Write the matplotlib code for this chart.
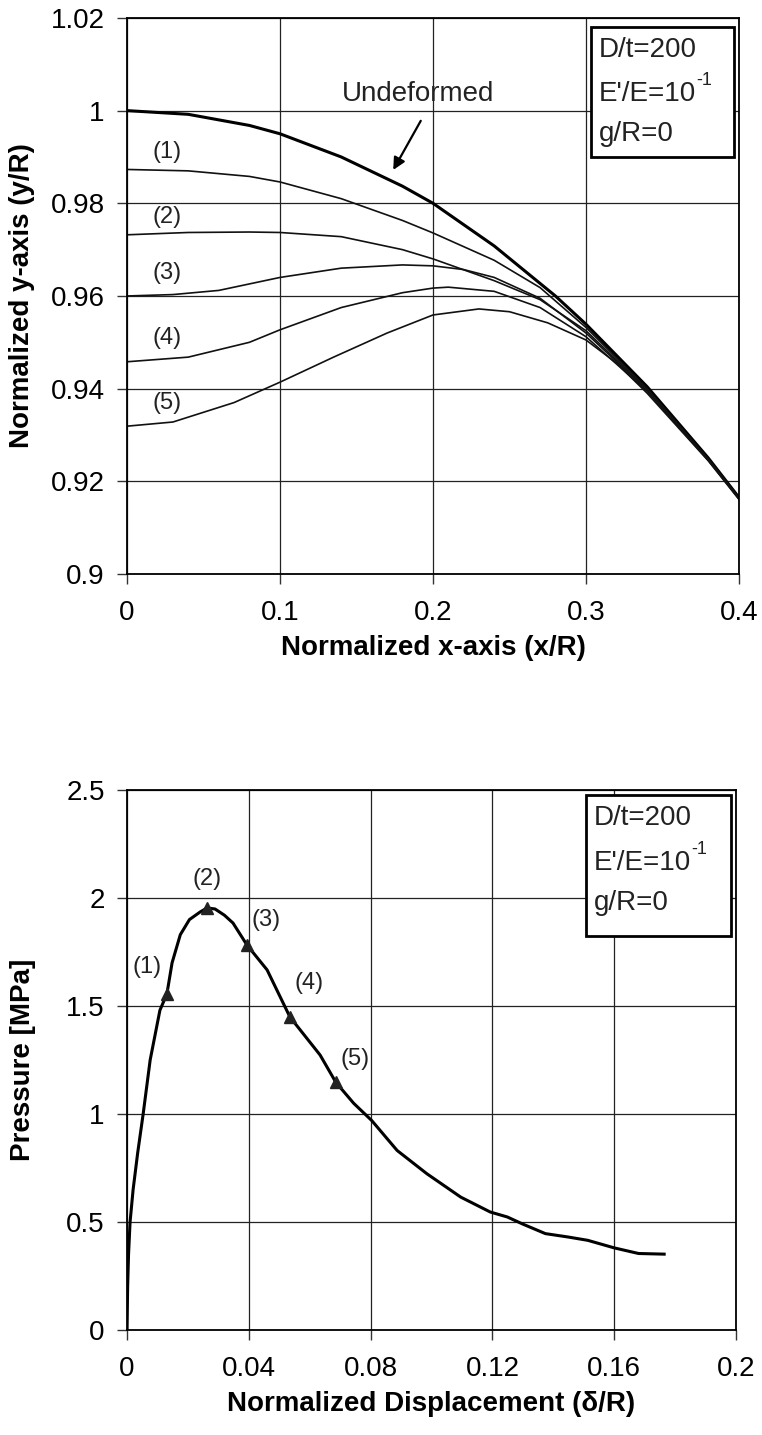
import matplotlib
matplotlib.use("Agg")
import matplotlib.pyplot as plt
from matplotlib.patches import Rectangle

plt.rcParams["font.family"] = ["Liberation Sans", "DejaVu Sans"]

# ---- top panel: deformed shapes ----
und_x = [0, 0.04, 0.08, 0.1, 0.14, 0.18, 0.2, 0.24, 0.28, 0.3, 0.34, 0.38, 0.4]
und_y = [1.0, 0.9992, 0.9968, 0.995, 0.990, 0.9837, 0.980, 0.9708, 0.960, 0.9539, 0.9404, 0.9250, 0.9165]

s1_x = [0, 0.04, 0.08, 0.1, 0.14, 0.18, 0.2, 0.24, 0.27, 0.3, 0.34, 0.38, 0.4]
s1_y = [0.9873, 0.9870, 0.9858, 0.9846, 0.9810, 0.9763, 0.9736, 0.9677, 0.9618, 0.9532, 0.9400, 0.9248, 0.9164]

s2_x = [0, 0.04, 0.08, 0.1, 0.14, 0.18, 0.2, 0.24, 0.27, 0.3, 0.34, 0.38, 0.4]
s2_y = [0.9732, 0.9737, 0.9738, 0.9737, 0.9728, 0.9700, 0.9680, 0.9633, 0.9592, 0.9525, 0.9398, 0.9247, 0.9163]

s3_x = [0, 0.03, 0.06, 0.1, 0.14, 0.18, 0.2, 0.22, 0.24, 0.27, 0.3, 0.34, 0.38, 0.4]
s3_y = [0.9600, 0.9603, 0.9612, 0.9640, 0.9660, 0.9667, 0.9665, 0.9657, 0.9640, 0.9595, 0.9520, 0.9396, 0.9246, 0.9163]

s4_x = [0, 0.04, 0.08, 0.1, 0.14, 0.18, 0.2, 0.21, 0.24, 0.27, 0.3, 0.34, 0.38, 0.4]
s4_y = [0.9458, 0.9468, 0.9500, 0.9527, 0.9575, 0.9607, 0.9617, 0.9619, 0.9610, 0.9575, 0.9512, 0.9394, 0.9245, 0.9162]

s5_x = [0, 0.03, 0.07, 0.1, 0.135, 0.17, 0.2, 0.23, 0.25, 0.275, 0.3, 0.32, 0.34, 0.38, 0.4]
s5_y = [0.9319, 0.9328, 0.9370, 0.9414, 0.9468, 0.9520, 0.9559, 0.9572, 0.9566, 0.9542, 0.9505, 0.9455, 0.9390, 0.9244, 0.9161]

step_labels = ["(1)", "(2)", "(3)", "(4)", "(5)"]
top_lab_y = [0.991, 0.977, 0.965, 0.951, 0.937]

# ---- bottom panel: pressure vs displacement ----
disp = [0, 0.0002, 0.0005, 0.001, 0.002, 0.0035, 0.0053, 0.0076, 0.0108, 0.0131, 0.0148,
        0.0175, 0.0205, 0.024, 0.0263, 0.0289, 0.032, 0.0348, 0.0394, 0.046, 0.0535,
        0.0634, 0.0686, 0.0744, 0.0804, 0.0887, 0.0985, 0.1096, 0.1193, 0.1249, 0.1300,
        0.1374, 0.1450, 0.1513, 0.1600, 0.168, 0.1764]
pres = [0, 0.2, 0.35, 0.5, 0.65, 0.82, 1.0, 1.25, 1.48, 1.556, 1.70,
        1.83, 1.90, 1.935, 1.954, 1.949, 1.92, 1.884, 1.782, 1.667, 1.449,
        1.273, 1.146, 1.05, 0.969, 0.831, 0.723, 0.615, 0.546, 0.523, 0.49,
        0.446, 0.43, 0.415, 0.38, 0.354, 0.351]

mark_x = [0.0131, 0.0263, 0.0394, 0.0535, 0.0686]
mark_y = [1.556, 1.954, 1.782, 1.449, 1.146]
bot_lab_x = [0.0066, 0.0263, 0.0456, 0.0598, 0.0748]
bot_lab_y = [1.68, 2.09, 1.90, 1.606, 1.254]

box_lines = ["D/t=200", "E'/E=10", "g/R=0"]
box_sup = "-1"

TICK = 20
LAB = 20


def style_axes(ax):
    ax.grid(True, color="#222222", linewidth=0.9)
    ax.set_axisbelow(True)
    for sp in ax.spines.values():
        sp.set_color("black")
        sp.set_linewidth(1.3)
    ax.tick_params(direction="out", length=7, width=1, color="#333333",
                   labelsize=TICK, top=False, right=False)
    ax.tick_params(axis="x", pad=12)
    ax.tick_params(axis="y", pad=9)


def info_box(ax, x0, y0, w, h, tx, ty):
    ax.add_patch(Rectangle((x0, y0), w, h, transform=ax.transAxes, fill=True,
                           facecolor="white", edgecolor="black", linewidth=2,
                           zorder=5, clip_on=False))
    for i, (t, yy) in enumerate(zip(box_lines, ty)):
        txt = ax.text(tx, yy, t, transform=ax.transAxes, fontsize=20, va="center",
                      ha="left", zorder=6, color="#222222")
        if i == 1:
            # small raised "-1" after "10"
            ax.annotate(box_sup, xy=(1.0, 1.0), xycoords=txt, fontsize=13,
                        ha="left", va="center", color="#222222", zorder=6)


fig = plt.figure(figsize=(7.62, 14.35), dpi=100)

# top
ax1 = fig.add_axes([0.1667, 0.6, 0.8031, 0.3875])
ax1.plot(und_x, und_y, color="black", linewidth=2.2)
for sx, sy in [(s1_x, s1_y), (s2_x, s2_y), (s3_x, s3_y), (s4_x, s4_y), (s5_x, s5_y)]:
    ax1.plot(sx, sy, color="#111111", linewidth=1.2)
for lab, yy in zip(step_labels, top_lab_y):
    ax1.text(0.026, yy, lab, fontsize=17, ha="center", va="center", color="#222222")
ax1.text(0.19, 1.0035, "Undeformed", fontsize=20, ha="center", va="center", color="#222222")
ax1.annotate("", xy=(0.174, 0.9872), xytext=(0.192, 0.9978),
             arrowprops=dict(arrowstyle="-|>", color="black", lw=1.6,
                             shrinkA=0, shrinkB=0, mutation_scale=18))
ax1.set_xlim(0, 0.4)
ax1.set_ylim(0.9, 1.02)
ax1.set_xticks([0, 0.1, 0.2, 0.3, 0.4])
ax1.set_xticklabels(["0", "0.1", "0.2", "0.3", "0.4"])
ax1.set_yticks([0.9, 0.92, 0.94, 0.96, 0.98, 1.0, 1.02])
ax1.set_yticklabels(["0.9", "0.92", "0.94", "0.96", "0.98", "1", "1.02"])
style_axes(ax1)
ax1.set_xlabel("Normalized x-axis (x/R)", fontsize=LAB, fontweight="bold", labelpad=6)
ax1.set_ylabel("Normalized y-axis (y/R)", fontsize=LAB, fontweight="bold")
ax1.yaxis.set_label_coords(-0.15, 0.5)
info_box(ax1, 0.758, 0.75, 0.234, 0.234, 0.771, [0.942, 0.864, 0.792])

# bottom
ax2 = fig.add_axes([0.1667, 0.0732, 0.7992, 0.3763])
ax2.plot(disp, pres, color="black", linewidth=2.2)
ax2.plot(mark_x, mark_y, linestyle="none", marker="^", markersize=9,
         color="#222222")
for lab, xx, yy in zip(step_labels, bot_lab_x, bot_lab_y):
    ax2.text(xx, yy, lab, fontsize=17, ha="center", va="center", color="#222222")
ax2.set_xlim(0, 0.2)
ax2.set_ylim(0, 2.5)
ax2.set_xticks([0, 0.04, 0.08, 0.12, 0.16, 0.2])
ax2.set_xticklabels(["0", "0.04", "0.08", "0.12", "0.16", "0.2"])
ax2.set_yticks([0, 0.5, 1.0, 1.5, 2.0, 2.5])
ax2.set_yticklabels(["0", "0.5", "1", "1.5", "2", "2.5"])
style_axes(ax2)
ax2.set_xlabel("Normalized Displacement (\u03b4/R)", fontsize=LAB, fontweight="bold", labelpad=6)
ax2.set_ylabel("Pressure [MPa]", fontsize=LAB, fontweight="bold")
ax2.yaxis.set_label_coords(-0.15, 0.5)
info_box(ax2, 0.754, 0.73, 0.238, 0.261, 0.767, [0.948, 0.865, 0.791])

fig.savefig("out.png", dpi=100)
